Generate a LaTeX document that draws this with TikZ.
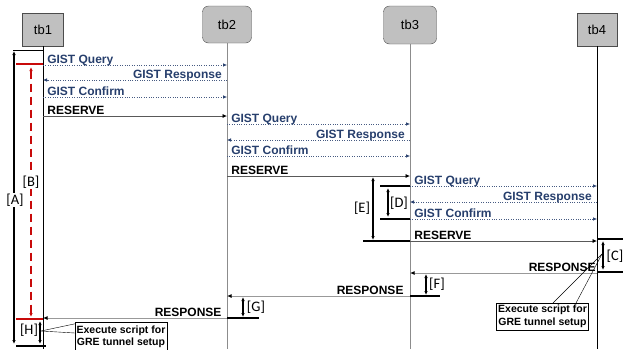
\documentclass[tikz,border=0pt]{standalone}
\usepackage{fontspec}
\setmainfont{Liberation Sans}
\newfontfamily\brfont{Carlito}
\usetikzlibrary{positioning,calc,arrows.meta}
\definecolor{gistblue}{RGB}{38,62,108}
\definecolor{boxgray}{RGB}{192,192,192}
\definecolor{bred}{RGB}{200,10,10}

\begin{document}
\begin{tikzpicture}[x=1pt,y=-1pt,
  sqbox/.style={draw=black!70,fill=boxgray,minimum width=41pt,minimum height=33pt,
                font=\fontsize{13}{15}\selectfont},
  rndbox/.style={sqbox,rounded corners=6pt,minimum width=49pt,minimum height=37pt},
  life/.style={line width=0.8pt},
  gist/.style={gistblue!85,dash pattern=on 1pt off 1.4pt,line width=0.6pt,
               -{Latex[length=4pt,width=3.5pt,color=gistblue]}},
  reserve/.style={black!65,line width=0.7pt,-{Latex[length=4.5pt,width=4pt,color=black]}},
  resp/.style={black!40,line width=1pt,-{Latex[length=4.5pt,width=4pt,color=black]}},
  lbl/.style={inner sep=0pt,font=\fontsize{12}{14}\selectfont\bfseries},
  lr/.style={lbl,pos=0,anchor=base west,xshift=4pt,yshift=2pt},
  rl/.style={lbl,pos=0,anchor=base east,xshift=-5pt,yshift=2pt},
  bar/.style={line width=2.5pt},
  brk/.style={line width=1.2pt,{Latex[length=4pt,width=3.5pt]}-{Latex[length=4pt,width=3.5pt]}},
  brlbl/.style={font=\brfont\fontsize{14.5}{16}\selectfont,inner sep=1pt,fill=white},
  note/.style={draw,fill=white,align=center,inner sep=1.5pt,minimum width=91pt,
               font=\fontsize{10.5}{12.5}\selectfont\bfseries}]
\useasboundingbox (0,0) rectangle (623,349);

% nodes
\node[sqbox]  (tb1) at (43,29.5) {tb1};
\node[rndbox] (tb2) at (227,24.5) {tb2};
\node[rndbox,minimum width=53pt,minimum height=38pt] (tb3) at (410,25) {tb3};
\node[sqbox,minimum width=40pt] (tb4) at (597,29.5) {tb4};

% lifelines
\draw[life] (tb1.south) -- (tb1 |- 0,349);
\draw[life,black!45] (tb2.south) -- (tb2 |- 0,349);
\draw[life,black!45] (tb3.south) -- (tb3 |- 0,349);
\draw[life] (tb4.south) -- (tb4 |- 0,349);

% tb1 <-> tb2
\draw[gist] (tb1 |- 0,65) -- (tb2 |- 0,65) node[lr,gistblue]{GIST Query};
\draw[gist] (tb2 |- 0,80) -- (tb1 |- 0,80) node[rl,gistblue]{GIST Response};
\draw[gist] (tb1 |- 0,97) -- (tb2 |- 0,97) node[lr,gistblue]{GIST Confirm};
\draw[reserve] (tb1 |- 0,116) -- (tb2 |- 0,116) node[lr,black]{RESERVE};

% tb2 <-> tb3
\draw[gist] (tb2 |- 0,124) -- (tb3 |- 0,124) node[lr,gistblue]{GIST Query};
\draw[gist] (tb3 |- 0,140) -- (tb2 |- 0,140) node[rl,gistblue]{GIST Response};
\draw[gist] (tb2 |- 0,156) -- (tb3 |- 0,156) node[lr,gistblue]{GIST Confirm};
\draw[reserve] (tb2 |- 0,176) -- (tb3 |- 0,176) node[lr,black]{RESERVE};

% tb3 <-> tb4
\draw[gist] (tb3 |- 0,186) -- (tb4 |- 0,186) node[lr,gistblue]{GIST Query};
\draw[gist] (tb4 |- 0,202) -- (tb3 |- 0,202) node[rl,gistblue]{GIST Response};
\draw[gist] (tb3 |- 0,219) -- (tb4 |- 0,219) node[lr,gistblue]{GIST Confirm};
\draw[reserve] (tb3 |- 0,241) -- (tb4 |- 0,241) node[lr,black]{RESERVE};

% responses
\draw[resp] (tb4 |- 0,273) -- (tb3 |- 0,273) node[rl,black,xshift=4pt]{RESPONSE};
\draw[resp] (tb3 |- 0,296) -- (tb2 |- 0,296) node[rl,black,xshift=-1pt]{RESPONSE};
\draw[resp] (tb2 |- 0,318) -- (tb1 |- 0,318) node[rl,black]{RESPONSE};

% [A] [B] [H]
\draw[line width=1.2pt] (13,50.7) -- (tb1 |- 0,50.7);
\draw[brk] (14,51) -- (14,344);
\draw[bar] (16,346) -- (46,346);
\node[brlbl] (lblA) at (15,200) {[A]};
\draw[bar,bred] (16,64) -- (tb1 |- 0,64);
\draw[bar,bred] (16,319) -- (tb1 |- 0,319);
\draw[brk,bred,dash pattern=on 8pt off 5pt] (31,67) -- (31,317);
\node[brlbl] (lblB) at (31,182) {[B]};
\draw[brk] (40,321) -- (40,344);
\node[brlbl,fill=none] (lblH) at (29,330) {[H]};
\node[note,minimum height=30pt] (exH) at (121,337) {Execute script for\\GRE tunnel setup};
\coordinate (pH) at (41,331);
\draw (pH) -- ($(exH.north west)+(0,2)$);
\draw (pH) -- ($(exH.west)+(0,-4)$);

% [C]
\draw[bar] (tb4 |- 0,239) -- (626,239);
\draw[bar] (tb4 |- 0,272) -- (626,272);
\draw[brk] (603,241) -- (603,270);
\node[brlbl,fill=none] (lblC) at (615,256) {[C]};
\node[note,minimum height=27pt] (exC) at (542.5,316.5) {Execute script for\\GRE tunnel setup};
\coordinate (pC) at (602,254);
\draw (pC) -- (553,303);
\draw (pC) -- (576,303);

% [D] [E]
\draw[bar] (380,186) -- (tb3 |- 0,186);
\draw[bar] (380,219) -- (tb3 |- 0,219);
\draw[brk] (388,188) -- (388,217);
\node[brlbl,fill=none] (lblD) at (399,203) {[D]};
\draw[brk] (373,177) -- (373,240);
\draw[bar] (363,241) -- (tb3 |- 0,241);
\node[brlbl,fill=none] (lblE) at (362,208) {[E]};

% [F] [G]
\draw[brk] (426,274) -- (426,295);
\draw[bar] (tb3 |- 0,296) -- (440,296);
\node[brlbl,fill=none] (lblF) at (437,284) {[F]};
\draw[brk] (243,297) -- (243,317);
\draw[bar] (tb2 |- 0,318) -- (259,318);
\node[brlbl,fill=none] (lblG) at (256,307) {[G]};
\end{tikzpicture}
\end{document}
